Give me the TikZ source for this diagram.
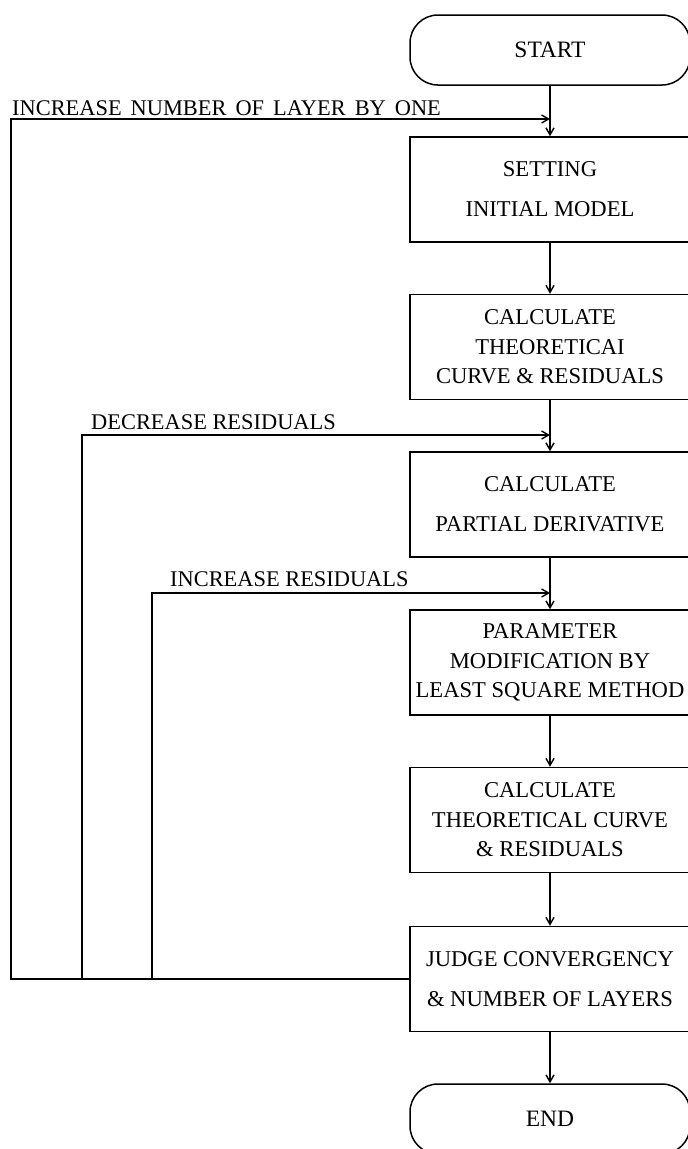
\documentclass[tikz,border=0pt]{standalone}
\usepackage{fontspec}
\setmainfont{Liberation Serif}
\usetikzlibrary{arrows.meta}
\begin{document}
\begin{tikzpicture}[x=1pt,y=-1pt,
  proc/.style={draw, line width=1.5pt, minimum width=280pt, minimum height=105pt, inner sep=0pt, align=center, font=\fontsize{22.6}{29.5}\selectfont},
  term/.style={draw, line width=1.5pt, rounded corners=28pt, minimum width=280pt, minimum height=70pt, inner sep=0pt, font=\fontsize{23.5}{29.5}\selectfont},
  conn/.style={line width=1.4pt, -{Straight Barb[length=7pt,width=8pt]}},
  lbl/.style={anchor=west, inner sep=0pt, font=\fontsize{22.4}{26}\selectfont}]
\useasboundingbox (0,0) rectangle (688,1149);
\clip (0,0) rectangle (688,1149);
\node[term] (start) at (550,50) {START};
\node[proc] (b1) at (550,189.5) {SETTING\\[10.5pt]INITIAL MODEL};
\node[proc] (b2) at (550,347) {CALCULATE\\THEORETICAI\\CURVE \& RESIDUALS};
\node[proc] (b3) at (550,504.5) {CALCULATE\\[10.5pt]PARTIAL DERIVATIVE};
\node[proc] (b4) at (550,662.5) {PARAMETER\\MODIFICATION BY\\LEAST SQUARE METHOD};
\node[proc] (b5) at (550,820) {CALCULATE\\THEORETICAL CURVE\\\& RESIDUALS};
\node[proc] (b6) at (550,979) {JUDGE CONVERGENCY\\[10.5pt]\& NUMBER OF LAYERS};
\node[term] (end) at (550,1119) {END};
\node[lbl] (t1) at (12,108) {\spaceskip=9pt\relax INCREASE NUMBER OF LAYER BY ONE};
\node[lbl] (t2) at (91,422) {DECREASE RESIDUALS};
\node[lbl] (t3) at (170,579) {INCREASE RESIDUALS};
\coordinate (j1) at (550,119);
\coordinate (j2) at (550,435);
\coordinate (j3) at (550,593);
\coordinate (l1b) at (11,979);
\coordinate (l1t) at (11,119);
\coordinate (l2b) at (82,979);
\coordinate (l2t) at (82,435);
\coordinate (l3b) at (152,979);
\coordinate (l3t) at (152,593);
\draw[conn] (start) -- (b1);
\draw[conn] (b1) -- (b2);
\draw[conn] (b2) -- (b3);
\draw[conn] (b3) -- (b4);
\draw[conn] (b4) -- (b5);
\draw[conn] (b5) -- (b6);
\draw[conn] (b6) -- (end);
\draw[conn] (b6.west) -- (l1b) -- (l1t) -- (j1);
\draw[conn] (l2b) -- (l2t) -- (j2);
\draw[conn] (l3b) -- (l3t) -- (j3);
\end{tikzpicture}
\end{document}
